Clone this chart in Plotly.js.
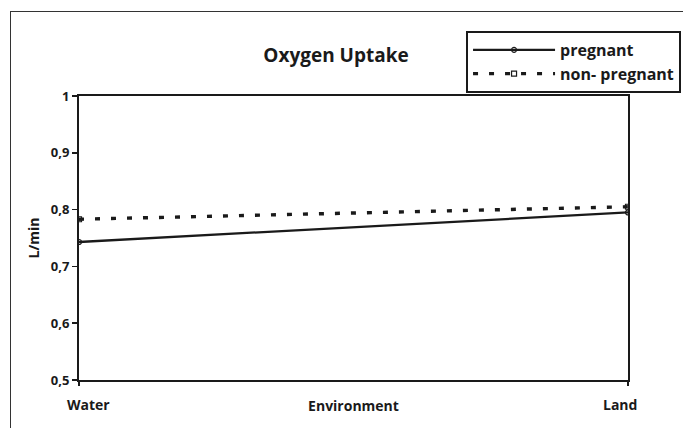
<!DOCTYPE html>
<html>
<head>
<meta charset="utf-8">
<script src="https://cdn.plot.ly/plotly-3.0.1.min.js"></script>
<style>
  html, body { margin: 0; padding: 0; background: #fff; }
  #wrap { position: relative; width: 683px; height: 428px; overflow: hidden; }
  #chart { width: 683px; height: 428px; }
  #frame { position: absolute; left: 10px; top: 11px; width: 800px; height: 600px;
           border-left: 1.5px solid #333; border-top: 1.5px solid #333; pointer-events: none; }
</style>
</head>
<body>
<div id="wrap">
  <div id="chart"></div>
  <div id="frame"></div>
</div>
<script>
const categories = ["Water", "Land"];
const pregnant = [0.743, 0.795];
const nonPregnant = [0.783, 0.805];
const seriesNames = ["pregnant", "non- pregnant"];
const yTicks = [0.5, 0.6, 0.7, 0.8, 0.9, 1];

const FONT = "Open Sans, DejaVu Sans, sans-serif";
const INK = "#1a1a1a";
const xIdx = categories.map((c, i) => i);

const traces = [
  {
    x: xIdx, y: pregnant, name: seriesNames[0], type: "scatter", mode: "lines+markers",
    line: { color: INK, width: 2.3 },
    marker: { symbol: "circle-open", size: 5, color: INK, line: { width: 1.2 } }
  },
  {
    x: xIdx, y: nonPregnant, name: seriesNames[1], type: "scatter", mode: "lines+markers",
    line: { color: INK, width: 3.4, dash: "5px,11px" },
    marker: { symbol: "square-open", size: 5, color: INK, line: { width: 1.2 } }
  }
];

const layout = {
  width: 683, height: 428,
  margin: { l: 79, r: 55, t: 96, b: 48, autoexpand: false },
  paper_bgcolor: "rgba(0,0,0,0)",
  plot_bgcolor: "#fff",
  separators: ",.",
  font: { family: FONT, color: INK, size: 13, weight: 700 },
  showlegend: true,
  title: {
    text: "Oxygen Uptake",
    font: { family: FONT, size: 19, color: INK, weight: 700 },
    x: 0.492, xanchor: "center", y: 0.871, yanchor: "middle"
  },
  xaxis: {
    range: [0, 1], showgrid: false, zeroline: false,
    showline: true, linecolor: INK, linewidth: 2, mirror: true,
    ticks: "outside", ticklen: 4, tickcolor: INK, tickwidth: 1.5,
    tickvals: xIdx, showticklabels: false,
    title: { text: "Environment", font: { family: FONT, size: 14, color: INK, weight: 700 }, standoff: 16 }
  },
  yaxis: {
    range: [0.5, 1], showgrid: false, zeroline: false,
    showline: true, linecolor: INK, linewidth: 2, mirror: true,
    ticks: "outside", ticklen: 5, tickcolor: INK, tickwidth: 1.5,
    tickvals: yTicks,
    tickfont: { family: FONT, size: 13, color: INK, weight: 700 },
    title: { text: "L/min", font: { family: FONT, size: 14, color: INK, weight: 700 }, standoff: 8 }
  },
  legend: {
    x: 0.705, y: 1.229, xanchor: "left", yanchor: "top",
    bordercolor: INK, borderwidth: 2, bgcolor: "#fff",
    font: { family: FONT, size: 16, color: INK, weight: 700 },
    tracegroupgap: 0, itemwidth: 82
  },
  annotations: categories.map((c, i) => ({
    x: i, xref: "x", y: 0, yref: "paper", yanchor: "top",
    xshift: i === 0 ? 9 : -8, yshift: -13,
    text: c, showarrow: false,
    font: { family: FONT, size: 14, color: INK, weight: 700 }
  }))
};

Plotly.newPlot("chart", traces, layout, { displayModeBar: false, staticPlot: true });
</script>
</body>
</html>
